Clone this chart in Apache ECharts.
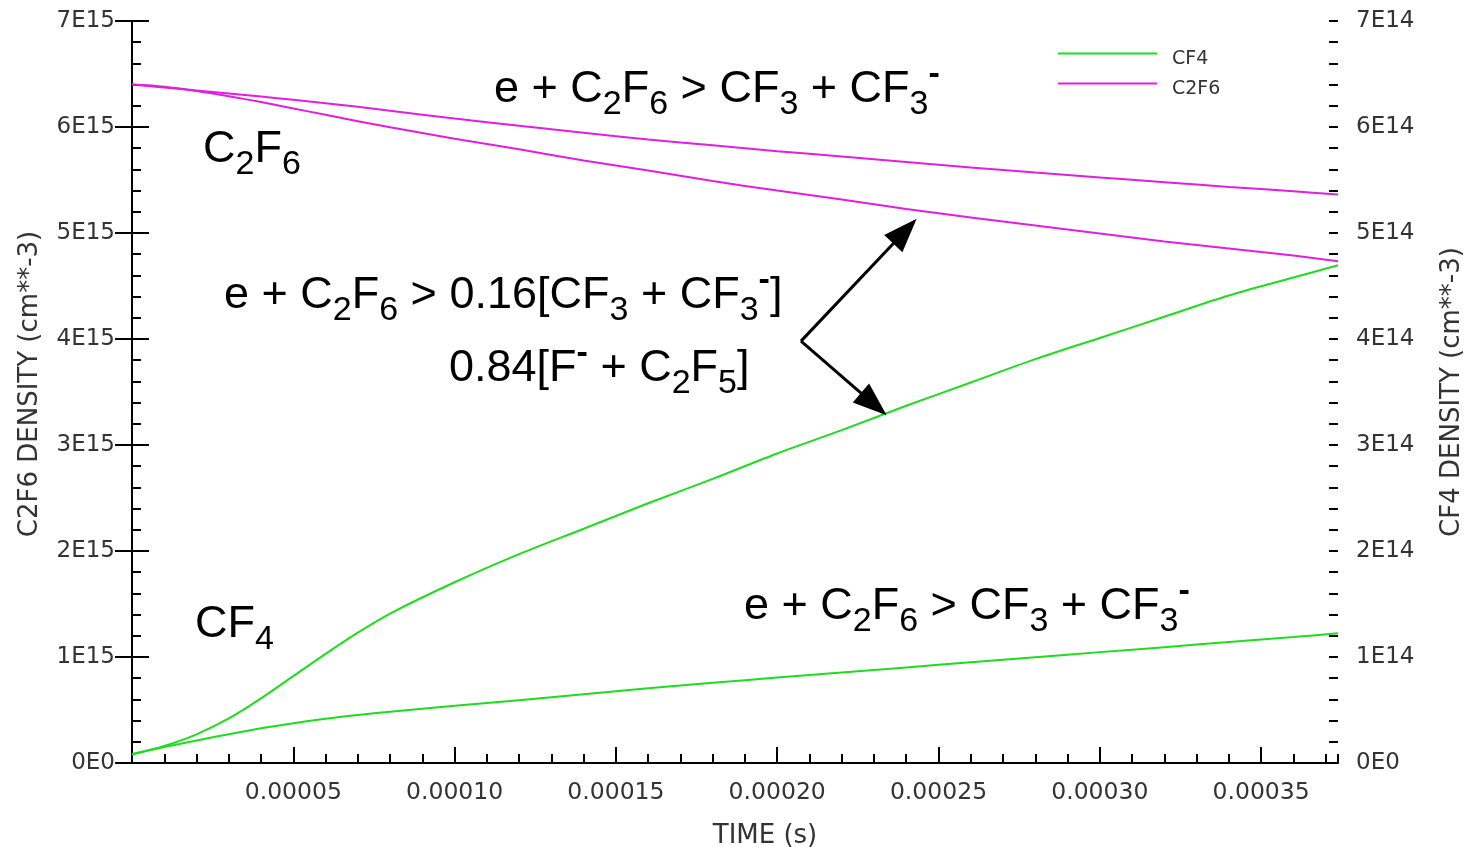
<!DOCTYPE html>
<html>
<head>
<meta charset="utf-8">
<script src="https://cdn.jsdelivr.net/npm/echarts@6/dist/echarts.min.js"></script>
<style>
  html, body { margin: 0; padding: 0; background: #fff; }
  #chart { width: 1467px; height: 849px; }
</style>
</head>
<body>
<div id="chart"></div>
<script>
// Time samples (s)
const time = [0, 0.00001, 0.00002, 0.00003, 0.00004, 0.00005, 0.00006, 0.00007, 0.00008,
  0.00010, 0.00012, 0.00014, 0.00016, 0.00018, 0.00020, 0.00022, 0.00024, 0.00026,
  0.00028, 0.00030, 0.00032, 0.00034, 0.00036, 0.00037384];

// C2F6 density (cm^-3), left axis
const c2f6Single = [6.400e15, 6.373e15, 6.345e15, 6.316e15, 6.287e15, 6.257e15, 6.225e15, 6.190e15, 6.153e15,
  6.080e15, 6.012e15, 5.945e15, 5.882e15, 5.828e15, 5.772e15, 5.722e15, 5.670e15, 5.618e15,
  5.570e15, 5.524e15, 5.479e15, 5.435e15, 5.393e15, 5.363e15];
const c2f6Branched = [6.400e15, 6.380e15, 6.340e15, 6.290e15, 6.235e15, 6.175e15, 6.115e15, 6.055e15, 5.997e15,
  5.890e15, 5.790e15, 5.684e15, 5.590e15, 5.490e15, 5.400e15, 5.317e15, 5.226e15, 5.147e15,
  5.071e15, 4.995e15, 4.920e15, 4.853e15, 4.787e15, 4.734e15];

// CF4 density (cm^-3), right axis
const cf4Branched = [0.080e14, 0.160e14, 0.270e14, 0.420e14, 0.610e14, 0.820e14, 1.030e14, 1.230e14, 1.410e14,
  1.705e14, 1.970e14, 2.210e14, 2.450e14, 2.680e14, 2.920e14, 3.140e14, 3.370e14, 3.590e14,
  3.810e14, 4.010e14, 4.210e14, 4.410e14, 4.580e14, 4.695e14];
const cf4Single = [0.085e14, 0.150e14, 0.213e14, 0.272e14, 0.327e14, 0.376e14, 0.418e14, 0.453e14, 0.484e14,
  0.540e14, 0.593e14, 0.648e14, 0.705e14, 0.757e14, 0.806e14, 0.854e14, 0.902e14, 0.950e14,
  0.998e14, 1.046e14, 1.093e14, 1.141e14, 1.188e14, 1.223e14];

// Axis settings
const xMax = 0.00037384;
const xStep = 0.00005;
const xMinorStep = 0.00001;
const leftMax = 7e15, leftStep = 1e15, leftMinorStep = 2e14;
const rightMax = 7e14, rightStep = 1e14, rightMinorStep = 2e13;

// Arrow annotation (time, C2F6 density)
const arrowVertex = [0.00020738, 3.980e15];
const arrowUpperEnd = [0.00023961, 5.017e15];
const arrowLowerEnd = [0.00022994, 3.386e15];

const GREEN = '#1fdc1f';
const MAGENTA = '#e01fe0';
const AXIS_FONT = 'DejaVu Sans';
const LABEL_FONT = 'Liberation Sans';

const pairs = (ys) => time.map((t, i) => [t, ys[i]]);

const rich = {
  m: { fontSize: 45, fontFamily: LABEL_FONT, fill: '#000', color: '#000', lineHeight: 64 },
  b: { fontSize: 34, fontFamily: LABEL_FONT, fill: '#000', color: '#000', lineHeight: 42, verticalAlign: 'bottom' },
  p: { fontSize: 34, fontFamily: LABEL_FONT, fill: '#000', color: '#000', lineHeight: 32, verticalAlign: 'top', fontWeight: 'bold' }
};

const eqSingle = '{m|e + C}{b|2}{m|F}{b|6}{m| > CF}{b|3}{m| + CF}{b|3}{p|-}';
const eqBranchA = '{m|e + C}{b|2}{m|F}{b|6}{m| > 0.16[CF}{b|3}{m| + CF}{b|3}{p|-}{m|]}';
const eqBranchB = '{m|0.84[F}{p|-}{m| + C}{b|2}{m|F}{b|5}{m|]}';
const nameC2F6 = '{m|C}{b|2}{m|F}{b|6}';
const nameCF4 = '{m|CF}{b|4}';

function textEl(str, x, y) {
  return {
    type: 'text', x: x, y: y, silent: true, z: 10,
    style: { text: str, rich: rich, align: 'left', verticalAlign: 'middle', fill: '#000' }
  };
}

const tickLine = { color: '#000', width: 2 };
const axisLabelStyle = { fontFamily: AXIS_FONT, color: '#333' };

// Axis that only draws short inward minor ticks
function minorAxis(position, max, step) {
  return {
    type: 'value', min: 0, max: max, interval: step, position: position,
    axisLine: { show: false },
    axisTick: { show: true, inside: true, length: 9, lineStyle: tickLine },
    axisLabel: { show: false },
    splitLine: { show: false }
  };
}

const lineSeries = (name, yIndex, values, color) => ({
  name: name, type: 'line', xAxisIndex: 0, yAxisIndex: yIndex, data: pairs(values),
  symbol: 'none', smooth: 0.3, lineStyle: { color: color, width: 2 }, itemStyle: { color: color }
});

const c2f6BranchedSeries = lineSeries('C2F6', 0, c2f6Branched, MAGENTA);
c2f6BranchedSeries.markLine = {
  silent: true, animation: false,
  symbol: ['none', 'triangle'], symbolSize: [25, 34],
  label: { show: false },
  lineStyle: { color: '#000', width: 3, type: 'solid' },
  itemStyle: { color: '#000' },
  data: [
    [{ coord: arrowVertex }, { coord: arrowUpperEnd }],
    [{ coord: arrowVertex }, { coord: arrowLowerEnd }]
  ]
};

const chart = echarts.init(document.getElementById('chart'));
chart.setOption({
  animation: false,
  backgroundColor: '#fff',
  grid: { left: 132, right: 129, top: 21, bottom: 86, containLabel: false, outerBoundsMode: 'none' },
  legend: {
    orient: 'vertical', left: 1058, top: 50, padding: 0,
    itemWidth: 99, itemHeight: 14, itemGap: 11,
    icon: 'path://M0,0H100V2H0Z M0,13.9H0.1V14H0Z',
    data: ['CF4', 'C2F6'],
    selectedMode: false,
    textStyle: { fontFamily: AXIS_FONT, fontSize: 19, color: '#333', padding: [0, 0, 0, 10] }
  },
  xAxis: [{
    type: 'value', min: 0, max: xMax, interval: xStep, position: 'bottom',
    axisLine: { lineStyle: tickLine },
    axisTick: { inside: true, length: 16, lineStyle: tickLine },
    axisLabel: Object.assign({
      margin: 18, fontSize: 23.5, showMaxLabel: false,
      formatter: (v) => {
        const k = v / xStep;
        if (v === 0 || Math.abs(k - Math.round(k)) > 1e-6) return '';
        return (Math.round(k) * xStep).toFixed(5);
      }
    }, axisLabelStyle),
    splitLine: { show: false },
    name: 'TIME (s)', nameLocation: 'middle', nameGap: 60,
    nameTextStyle: { fontFamily: AXIS_FONT, fontSize: 26, color: '#333', padding: [0, 0, 0, 60] }
  }, minorAxis('bottom', xMax, xMinorStep)],
  yAxis: [{
    type: 'value', min: 0, max: leftMax, interval: leftStep, position: 'left',
    axisLine: { show: true, lineStyle: tickLine },
    axisTick: { show: true, inside: true, length: 17, lineStyle: tickLine },
    axisLabel: Object.assign({
      margin: 17, fontSize: 23,
      formatter: (v) => v === 0 ? '0E0' : Math.round(v / 1e15) + 'E15'
    }, axisLabelStyle),
    splitLine: { show: false },
    name: 'C2F6 DENSITY (cm**-3)', nameLocation: 'middle', nameRotate: 90, nameGap: 89,
    nameTextStyle: { fontFamily: AXIS_FONT, fontSize: 26, color: '#333', padding: [0, 0, 0, 16] }
  }, {
    type: 'value', min: 0, max: rightMax, interval: rightStep, position: 'right',
    axisLine: { show: true, lineStyle: tickLine },
    axisTick: { show: true, inside: true, length: 17, lineStyle: tickLine },
    axisLabel: Object.assign({
      margin: 18, fontSize: 23,
      formatter: (v) => v === 0 ? '0E0' : Math.round(v / 1e14) + 'E14'
    }, axisLabelStyle),
    splitLine: { show: false },
    name: 'CF4 DENSITY (cm**-3)', nameLocation: 'middle', nameRotate: 90, nameGap: 101,
    nameTextStyle: { fontFamily: AXIS_FONT, fontSize: 26, color: '#333' }
  },
  minorAxis('left', leftMax, leftMinorStep),
  minorAxis('right', rightMax, rightMinorStep)],
  series: [
    lineSeries('CF4', 1, cf4Branched, GREEN),
    lineSeries('CF4', 1, cf4Single, GREEN),
    lineSeries('C2F6', 0, c2f6Single, MAGENTA),
    c2f6BranchedSeries
  ],
  graphic: [
    textEl(eqSingle, 494, 90),
    textEl(nameC2F6, 203, 150),
    textEl(eqBranchA, 224, 296),
    textEl(eqBranchB, 449, 369),
    textEl(nameCF4, 195, 625),
    textEl(eqSingle, 744, 607)
  ]
});
</script>
</body>
</html>
